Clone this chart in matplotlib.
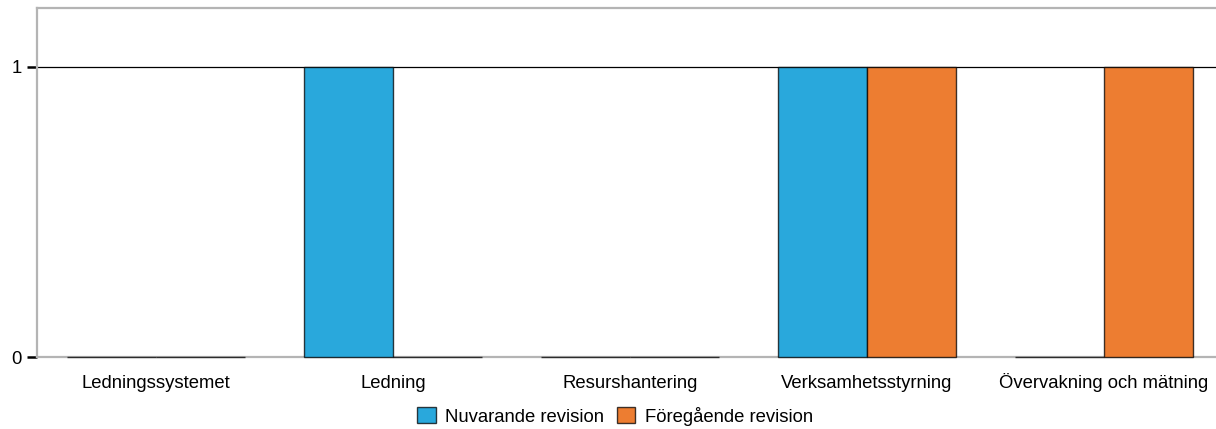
import numpy as np
import matplotlib.pyplot as plt

categories = ["Ledningssystemet", "Ledning", "Resurshantering",
              "Verksamhetsstyrning", "Övervakning och mätning"]
nuvarande = [0, 1, 0, 1, 0]
foregaende = [0, 0, 0, 1, 1]
series_names = ["Nuvarande revision", "Föregående revision"]

plt.rcParams['font.family'] = ['Liberation Sans', 'DejaVu Sans']
FS = 13.3

fig = plt.figure(figsize=(12.16, 4.29), dpi=100)
ax = fig.add_axes([37 / 1216, 1 - 357 / 429, 1 - 37 / 1216, 349 / 429])

x = np.arange(len(categories))
w = 0.375
edge = (0, 0, 0, 0.75)
ax.bar(x - w / 2, nuvarande, w, color="#29a8dc", edgecolor=edge,
       linewidth=1.0, label=series_names[0], zorder=3, clip_on=False)
ax.bar(x + w / 2, foregaende, w, color="#ed7d31", edgecolor=edge,
       linewidth=1.0, label=series_names[1], zorder=3, clip_on=False)

ax.set_xlim(-0.502, 4.473)
ax.set_ylim(0, 1.203)
ax.set_yticks([0, 1])
ax.set_xticks(x)
ax.set_xticklabels(categories, fontsize=FS, va='baseline')
ax.tick_params(axis='x', length=0, pad=22)
ax.tick_params(axis='y', length=7, width=1.8, color='black', labelsize=FS, pad=4)
ax.yaxis.grid(True, color='black', linewidth=0.9, zorder=1)

for side in ['left', 'top', 'bottom']:
    ax.spines[side].set_color('#b4b4b4')
    ax.spines[side].set_linewidth(1.6)
ax.spines['right'].set_visible(False)

fig.legend(loc='center', bbox_to_anchor=(615 / 1216, 1 - 416 / 429), ncol=2,
           frameon=False, fontsize=FS, handlelength=1.0, handleheight=1.0,
           handletextpad=0.5, columnspacing=0.7)

fig.savefig("out.png", dpi=100)
